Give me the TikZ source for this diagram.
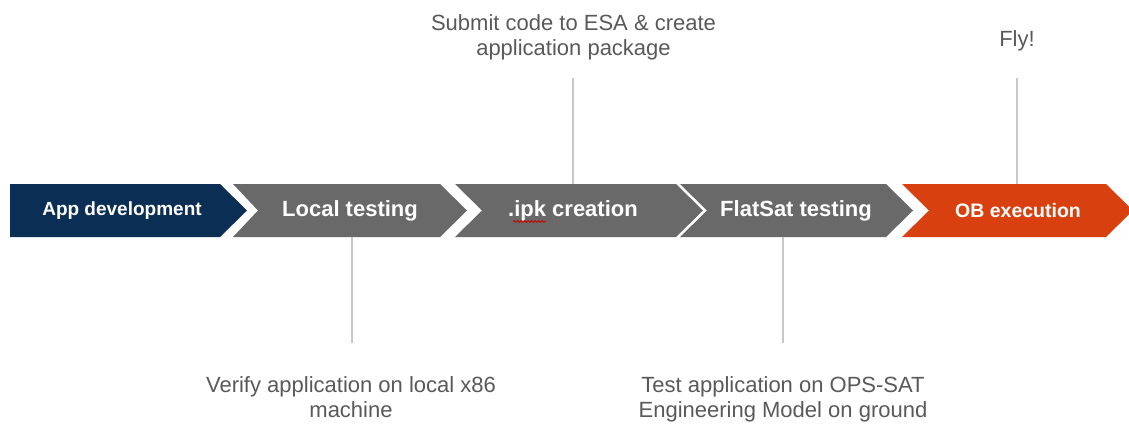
\documentclass[tikz,border=0pt]{standalone}
\usepackage{fontspec}
\setmainfont{Liberation Sans}
\usetikzlibrary{decorations.pathmorphing}
\definecolor{navy}{HTML}{0B2E54}
\definecolor{stagegray}{HTML}{696969}
\definecolor{flyred}{HTML}{D9400F}
\definecolor{notegray}{HTML}{595959}
\definecolor{leadgray}{HTML}{C8C8C8}
\tikzset{
  stagelabel/.style={text=white, font=\bfseries\fontsize{22}{26}\selectfont, inner sep=0pt},
  note/.style={text=notegray, font=\fontsize{22}{25}\selectfont, align=center, inner sep=0pt, anchor=base},
  leader/.style={draw=leadgray, line width=2pt},
  squiggle/.style={draw=red!80!black, line width=0.8pt,
    decorate, decoration={snake, amplitude=0.9pt, segment length=3.5pt}}
}
\begin{document}
\begin{tikzpicture}[x=1pt, y=-1pt]
\useasboundingbox (0,0) rectangle (1129,424);
\begin{scope}
\clip (0,0) rectangle (1129,424);
% process chevrons
\fill[navy] (10,184) -- (220,184) -- (247,210.5) -- (220,237) -- (10,237) -- cycle;
\fill[stagegray] (233,184) -- (440,184) -- (467,210.5) -- (440,237) -- (233,237) -- (258,210.5) -- cycle;
\fill[stagegray] (455,184) -- (676,184) -- (703,210.5) -- (676,237) -- (455,237) -- (482,210.5) -- cycle;
\fill[stagegray] (680,184) -- (886,184) -- (913,210.5) -- (886,237) -- (680,237) -- (707,210.5) -- cycle;
\fill[flyred] (902,184) -- (1106,184) -- (1133,210.5) -- (1106,237) -- (902,237) -- (929,210.5) -- cycle;
\end{scope}
% stage labels
\node[stagelabel, font=\bfseries\fontsize{19}{22}\selectfont] (s1) at (122,210.5) {App development};
\node[stagelabel] (s2) at (350,210.5) {Local testing};
\node[stagelabel] (s3) at (573,210.5) {.ipk creation};
\node[stagelabel] (s4) at (796,210.5) {FlatSat testing};
\node[stagelabel, font=\bfseries\fontsize{19.5}{22}\selectfont] (s5) at (1018,210.5) {OB execution};
\draw[squiggle] (513,221.5) -- (546,221.5);
% annotations (anchored at the baseline of their last line)
\node[note] (n3) at (573.5,55) {Submit code to ESA \& create\\application package};
\node[note] (n5) at (1017,46) {Fly!};
\node[note] (n2) at (351,417) {Verify application on local x86\\machine};
\node[note] (n4) at (783,417) {Test application on OPS-SAT\\Engineering Model on ground};
% leader lines
\coordinate (t3) at (573,78);
\coordinate (t5) at (1017,78);
\coordinate (b2) at (352,343);
\coordinate (b4) at (783,343);
\draw[leader] (t3) -- (t3 |- 0,184);
\draw[leader] (t5) -- (t5 |- 0,184);
\draw[leader] (b2) -- (b2 |- 0,237);
\draw[leader] (b4) -- (b4 |- 0,237);
\end{tikzpicture}
\end{document}
